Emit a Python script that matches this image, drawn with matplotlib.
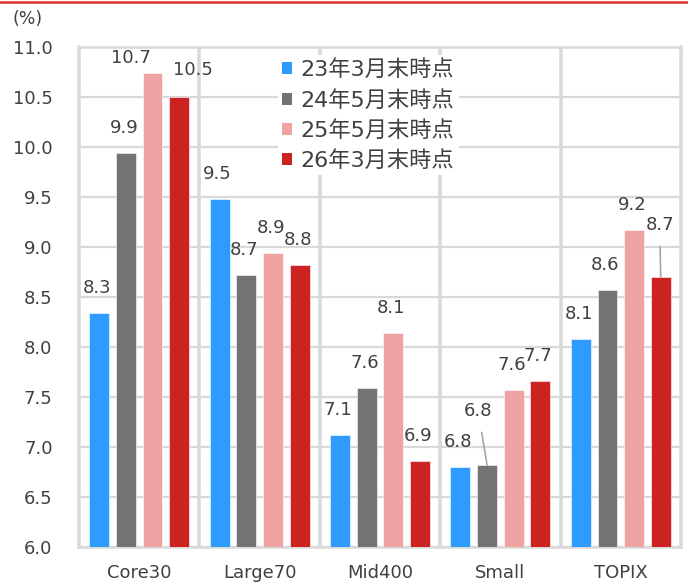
import numpy as np
import matplotlib
matplotlib.use("Agg")
import matplotlib.pyplot as plt
from matplotlib.patches import Patch
from matplotlib.lines import Line2D

plt.rcParams['font.family'] = ['DejaVu Sans', 'Noto Sans CJK JP']

# data
categories = ["Core30", "Large70", "Mid400", "Small", "TOPIX"]
series_names = ["23年3月末時点", "24年5月末時点", "25年5月末時点", "26年3月末時点"]
s2303 = [8.34, 9.48, 7.12, 6.80, 8.08]
s2405 = [9.94, 8.72, 7.59, 6.82, 8.57]
s2505 = [10.74, 8.94, 8.14, 7.57, 9.17]
s2603 = [10.50, 8.82, 6.86, 7.66, 8.70]
yticks = [6.0, 6.5, 7.0, 7.5, 8.0, 8.5, 9.0, 9.5, 10.0, 10.5, 11.0]

colors = ["#2f9bff", "#737373", "#f0a3a3", "#cc2222"]
txt = "#404040"
grid = "#d9d9d9"

# label nudges (pixels) where the reference moved a label
nudge = {(0, 2): (-22, 15), (0, 3): (14, 27), (3, 1): (-9, 54), (4, 3): (-1, 52)}
leader = {(3, 1), (4, 3)}

fig = plt.figure(figsize=(6.88, 5.84), dpi=100)
ax = fig.add_axes([79/688, 1-547/584, (681-79)/688, (547-47)/584])

x = np.arange(len(categories))
step = 0.221
width = 0.166
all_series = [s2303, s2405, s2505, s2603]
for k, vals in enumerate(all_series):
    pos = x + (k - 1.5) * step
    ax.bar(pos, np.array(vals) - 6.0, width, bottom=6.0, color=colors[k],
           edgecolor="white", linewidth=0.4, zorder=3)
    for i, v in enumerate(vals):
        dx, dy = nudge.get((i, k), (-2, 25))
        arrow = None
        if (i, k) in leader:
            arrow = dict(arrowstyle="-", color="#a6a6a6", lw=1.2, shrinkA=7, shrinkB=0)
        ax.annotate(f"{v:.1f}", xy=(pos[i], v), xytext=(dx, dy),
                    textcoords="offset pixels", ha="center", va="center",
                    fontsize=13, color=txt, zorder=5, arrowprops=arrow,
                    annotation_clip=False)

ax.set_xlim(-0.5, len(categories) - 0.5)
ax.set_ylim(6.0, 11.0)
ax.set_yticks(yticks)
ax.set_yticklabels([f"{t:.1f}" for t in yticks])
ax.set_xticks(x)
ax.set_xticklabels(categories)
ax.tick_params(axis="both", length=0, labelsize=13, colors=txt)
ax.tick_params(axis="y", pad=19)
ax.tick_params(axis="x", pad=12)

ax.yaxis.grid(True, color=grid, lw=1.6, zorder=0)
for b in np.arange(0.5, len(categories) - 1, 1.0):
    ax.axvline(b, color=grid, lw=2.6, zorder=1)
for side in ["left", "right"]:
    ax.spines[side].set_color(grid)
    ax.spines[side].set_linewidth(2.6)
for side in ["top", "bottom"]:
    ax.spines[side].set_color(grid)
    ax.spines[side].set_linewidth(1.8)

handles = [Patch(facecolor=c, edgecolor="none") for c in colors]
leg = ax.legend(handles, series_names, loc="upper left",
                bbox_to_anchor=((278-79)/602, 1-(55-47)/500),
                frameon=True, fontsize=16, handlelength=0.45, handleheight=0.45,
                handletextpad=0.35, labelspacing=0.42, borderpad=0.2,
                borderaxespad=0)
leg.get_frame().set_facecolor("white")
leg.get_frame().set_edgecolor("none")
leg.get_frame().set_alpha(1.0)
leg.set_zorder(4)
for t in leg.get_texts():
    t.set_color(txt)

fig.text(13/688, 1-19/584, "(%)", fontsize=12.5, color=txt, va="center", ha="left")
fig.add_artist(Line2D([0, 1], [1-1.5/584, 1-1.5/584], color="#dd3333", lw=1.8,
                      transform=fig.transFigure))

fig.savefig("out.png", dpi=100)
